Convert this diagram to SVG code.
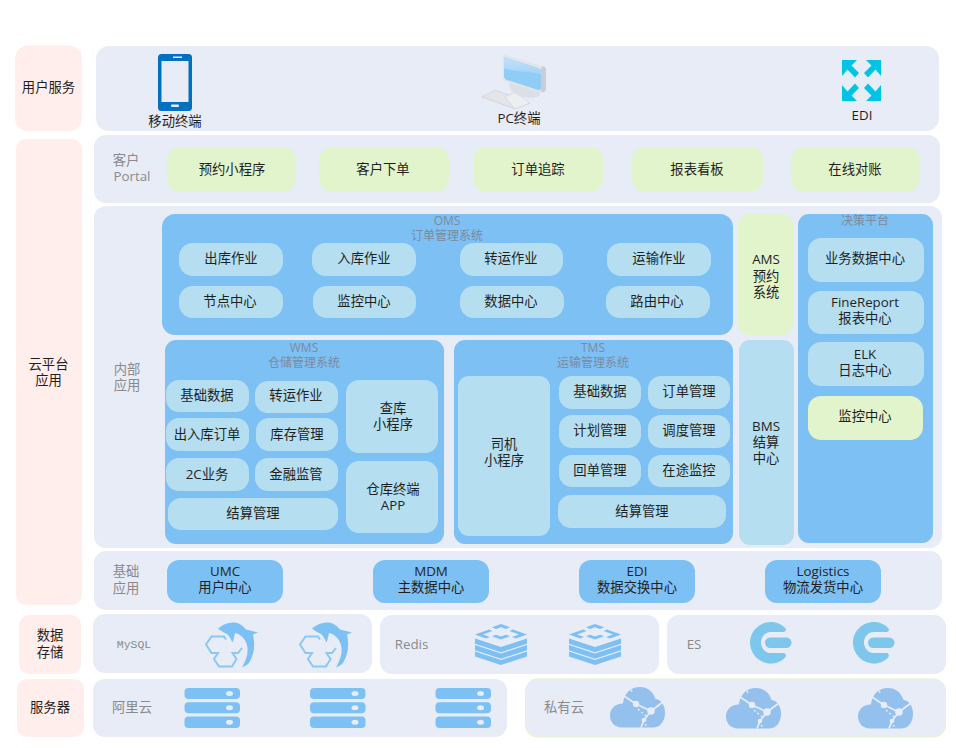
<svg xmlns="http://www.w3.org/2000/svg" width="956" height="748" viewBox="0 0 956 748">
<style>
text{font-family:"Open Sans","Noto Sans CJK SC",sans-serif;font-size:13.33px;text-anchor:middle;fill:#1f1f1f}
.g{fill:#8a8a8a}
.t{fill:#7b8aa0;font-size:12px}
.p{fill:#e8ecf7}
.k{fill:#ffeeeb}
.b{fill:#7dc0f3}
.l{fill:#b5dff0}
.n{fill:#e2f4cb}
.s{fill:#7dc0f3}
.c{fill:#93c0ec}
</style>
<defs>
<linearGradient id="scr" x1="0" y1="0" x2="0" y2="1"><stop offset="0" stop-color="#c4e2f8"/><stop offset="1" stop-color="#a2d4f7"/></linearGradient>
<g id="srv">
<rect x="0" y="0" width="55.500" height="11" rx="4" class="s"/><ellipse cx="45" cy="5.500" rx="3.500" ry="2.500" fill="#e8ecf7"/>
<rect x="0" y="14.300" width="55.500" height="11" rx="4" class="s"/><ellipse cx="45" cy="19.800" rx="3.500" ry="2.500" fill="#e8ecf7"/>
<rect x="0" y="28.600" width="55.500" height="11.400" rx="4" class="s"/><ellipse cx="45" cy="34.300" rx="3.500" ry="2.500" fill="#e8ecf7"/>
</g>
<g id="dol">
<path class="s" d="M13 6.500C18 2 24 0 29 0.500C35 1 38 4 41 7.500L53 10.500L48 12.500C50 22 50 31 44 41C42 43 39 45 37 45.500C41 38 44 31 42 23C40 16 35 12 30 11C29 15 29 17 27.500 20.500C25.500 17 24.500 13 20 11C17 9.500 15 8 13 6.500Z"/>
<path fill="none" stroke="#8cc8f0" stroke-width="2" d="M21 17.500L19 14.500H6.500L1 22.500L6.500 31H13L9 37L14 44.500H27L31.500 37L27.500 31H33L37 26"/>
</g>
<g id="red" class="s">
<path d="M0 14.500L26 23L52 14.500V19.800L26 28.300L0 19.800Z"/>
<path d="M0 21L26 29.500L52 21V26.300L26 34.800L0 26.300Z"/>
<path d="M0 27.500L26 36L52 27.500V32.500L26 41L0 32.500Z"/>
<path d="M0 10.500L14 5.500L17.500 7L8 10.500L15 13L11 14.500ZM52 10.500L38 5.500L34.500 7L44 10.500L37 13L41 14.500ZM26 0L35 3.300L31 5L26 3.300L21 5L17 3.300ZM26 15.500L35 12.300L31 10.800L26 12.500L21 10.800L17 12.300Z"/>
</g>
<g id="es">
<path fill="#7dc6ec" d="M21 0C27 0 32 2.500 35.500 6.500C36.500 8 35.500 10 33.500 10H21C15 10 11 15 11 20.500C11 26 15 31 21 31H33.500C35.500 31 36.500 33 35.500 35C32 39 27 41.500 21 41.500C9.500 41.500 0 32 0 20.500C0 9 9.500 0 21 0Z"/>
<rect x="15" y="15.500" width="26.500" height="10.500" rx="5.200" fill="#7dc6ec"/>
</g>
<g id="cld">
<path class="c" d="M12 40.500C5 40.500 0 35.500 0 28.500C0 21.500 5 16.500 13 16.500C14 6 21 0 30 0C37 0 43 4 45.500 12C51 12.500 55 18 55 26C55 34.500 50 40.500 43 40.500Z"/>
<path fill="none" stroke="#e8ecf7" stroke-width="1.800" d="M14 9L26 17L41 24L53 15M41 24L34 33L31 40.500"/>
<path fill="none" stroke="#e8ecf7" stroke-width="1.500" stroke-dasharray="2 2.500" d="M28 22L36 29M21 3L23 6M35 37L38 40"/>
<circle cx="26" cy="17" r="3.200" fill="#e8ecf7"/><circle cx="41" cy="24" r="3.800" fill="#e8ecf7"/><circle cx="34" cy="33" r="2.300" fill="#e8ecf7"/>
</g>
</defs>

<g id="connectors"/>

<g id="user-service"><rect class="k" x="15" y="45.500" width="67" height="85.500" rx="13"/><text x="48.500" y="92">用户服务</text></g>
<g id="user-panel"><rect class="p" x="96" y="46" width="843" height="85" rx="13"/></g>
<g id="mobile">
<rect x="158" y="54" width="34" height="57" rx="3.500" fill="#0070c0"/>
<rect x="161.500" y="61" width="27" height="41" fill="#e8ecf7"/>
<rect x="173" y="56.500" width="9" height="1.500" fill="#e8ecf7"/>
<rect x="171" y="104.500" width="8" height="2.500" rx="1" fill="#e8ecf7"/>
<text x="175" y="126">移动终端</text>
</g>
<g id="pc">
<path d="M482 97L495 90L530 103L515 109Z" fill="#e3e5e9" stroke="#cfd2d8" stroke-width=".8"/>
<path d="M505 97L515 92L530 103L515 109Z" fill="#eceef1" stroke="#cfd2d8" stroke-width=".6"/>
<path d="M509 84C509 94 524 100 537 97C541 95 541 92 540 90L512 80Z" fill="#dcdfe5"/>
<path d="M503 54L543 66Q546 67 546 71V88Q546 93 541 92L506 82Q503 81 503 77Z" fill="#e2e5ea"/>
<path d="M541 68L543 66Q546 67 546 71V88Q546 93 541 92Z" fill="#c9cdd5"/>
<path d="M504 57L538 68Q541 69 541 72V87Q541 91 538 90L507 80Q504 79 504 76Z" fill="#8fcdf6"/>
<path d="M504 57L538 68Q541 69 541 72V74C528 71 512 72 504 68Z" fill="url(#scr)"/>
<text x="519" y="123">PC终端</text>
</g>
<g id="edi">
<path fill="#00c4e4" d="M842 60H857L851.500 65.500L859 73L855 77.500L847.500 69.500L842 76ZM881 60H866L871.500 65.500L864 73L868 77.500L875.500 69.500L881 76ZM842 101H857L851.500 95.500L859 88L855 83.500L847.500 91.500L842 85ZM881 101H866L871.500 95.500L864 88L868 83.500L875.500 91.500L881 85Z"/>
<text x="862" y="120">EDI</text>
</g>

<g id="cloud-label"><rect class="k" x="16" y="139" width="66" height="466" rx="10"/><text x="48.500" y="369">云平台<tspan x="48.500" dy="16">应用</tspan></text></g>

<g id="portal-panel"><rect class="p" x="94" y="135" width="846" height="68" rx="12"/><text class="g" x="126" y="165">客户<tspan x="132" dy="16">Portal</tspan></text></g>
<g id="n-yuyue"><rect class="n" x="167" y="147" width="129" height="45" rx="13"/><text x="232" y="174">预约小程序</text></g>
<g id="n-xiadan"><rect class="n" x="319" y="147" width="130" height="45" rx="13"/><text x="383" y="174">客户下单</text></g>
<g id="n-zhuizong"><rect class="n" x="473" y="147" width="130" height="45" rx="13"/><text x="538" y="174">订单追踪</text></g>
<g id="n-baobiao"><rect class="n" x="632" y="147" width="131" height="45" rx="13"/><text x="697" y="174">报表看板</text></g>
<g id="n-duizhang"><rect class="n" x="791" y="147" width="129" height="45" rx="13"/><text x="855" y="174">在线对账</text></g>

<g id="inner-panel"><rect class="p" x="94" y="206" width="848" height="342" rx="12"/><text class="g" x="127" y="374">内部<tspan x="127" dy="16">应用</tspan></text></g>

<g id="oms"><rect class="b" x="162" y="214" width="571" height="121" rx="13"/><text class="t" x="447" y="225">OMS<tspan x="447" dy="15">订单管理系统</tspan></text></g>
<g id="o1"><rect class="l" x="179" y="243" width="104" height="33" rx="14"/><text x="231" y="263">出库作业</text></g>
<g id="o2"><rect class="l" x="312" y="243" width="104" height="33" rx="14"/><text x="364" y="263">入库作业</text></g>
<g id="o3"><rect class="l" x="460" y="243" width="103" height="33" rx="14"/><text x="511" y="263">转运作业</text></g>
<g id="o4"><rect class="l" x="607" y="243" width="104" height="33" rx="14"/><text x="659" y="263">运输作业</text></g>
<g id="o5"><rect class="l" x="179" y="286" width="104" height="32" rx="14"/><text x="230" y="306">节点中心</text></g>
<g id="o6"><rect class="l" x="313" y="286" width="103" height="32" rx="14"/><text x="364" y="306">监控中心</text></g>
<g id="o7"><rect class="l" x="460" y="286" width="104" height="32" rx="14"/><text x="511" y="306">数据中心</text></g>
<g id="o8"><rect class="l" x="606" y="286" width="104" height="32" rx="14"/><text x="657" y="306">路由中心</text></g>

<g id="ams"><rect class="n" x="738" y="214" width="55" height="121" rx="11"/><text x="766" y="264">AMS<tspan x="766" dy="16.500">预约</tspan><tspan x="766" dy="16.500">系统</tspan></text></g>
<g id="bms"><rect class="l" x="739" y="340" width="55" height="205" rx="11"/><text x="766" y="431">BMS<tspan x="766" dy="16">结算</tspan><tspan x="766" dy="16">中心</tspan></text></g>

<g id="decision"><rect class="b" x="798" y="214" width="135" height="329" rx="11"/><text class="t" x="865" y="225">决策平台</text></g>
<g id="d1"><rect class="l" x="808" y="238" width="116" height="44" rx="13"/><text x="865" y="263">业务数据中心</text></g>
<g id="d2"><rect class="l" x="808" y="291" width="116" height="43" rx="13"/><text x="865" y="307">FineReport<tspan x="865" dy="16">报表中心</tspan></text></g>
<g id="d3"><rect class="l" x="808" y="342" width="116" height="44" rx="13"/><text x="865" y="359">ELK<tspan x="865" dy="16">日志中心</tspan></text></g>
<g id="d4"><rect class="n" x="808" y="396" width="115" height="44" rx="13"/><text x="865" y="421">监控中心</text></g>

<g id="wms"><rect class="b" x="165" y="340" width="279" height="204" rx="11"/><text class="t" x="304" y="352">WMS<tspan x="304" dy="15">仓储管理系统</tspan></text></g>
<g id="w1"><rect class="l" x="166" y="380" width="83" height="32" rx="13"/><text x="207" y="400">基础数据</text></g>
<g id="w2"><rect class="l" x="255" y="381" width="83" height="32" rx="13"/><text x="296" y="400">转运作业</text></g>
<g id="w3"><rect class="l" x="166" y="418" width="83" height="33" rx="13"/><text x="207" y="439">出入库订单</text></g>
<g id="w4"><rect class="l" x="256" y="418" width="82" height="33" rx="13"/><text x="297" y="439">库存管理</text></g>
<g id="w5"><rect class="l" x="166" y="458" width="83" height="33" rx="13"/><text x="207" y="479">2C业务</text></g>
<g id="w6"><rect class="l" x="255" y="458" width="83" height="33" rx="13"/><text x="296" y="479">金融监管</text></g>
<g id="w7"><rect class="l" x="168" y="498" width="170" height="32" rx="13"/><text x="253" y="518">结算管理</text></g>
<g id="w8"><rect class="l" x="346" y="380" width="92" height="73" rx="13"/><text x="393" y="413">查库<tspan x="393" dy="16">小程序</tspan></text></g>
<g id="w9"><rect class="l" x="346" y="461" width="92" height="72" rx="13"/><text x="393" y="494">仓库终端<tspan x="393" dy="15.500">APP</tspan></text></g>

<g id="tms"><rect class="b" x="454" y="340" width="279" height="204" rx="11"/><text class="t" x="593" y="352">TMS<tspan x="593" dy="15">运输管理系统</tspan></text></g>
<g id="t0"><rect class="l" x="458" y="376" width="92" height="160" rx="11"/><text x="504" y="449">司机<tspan x="504" dy="16">小程序</tspan></text></g>
<g id="t1"><rect class="l" x="559" y="376" width="82" height="33" rx="13"/><text x="600" y="396">基础数据</text></g>
<g id="t2"><rect class="l" x="648" y="376" width="82" height="33" rx="13"/><text x="689" y="396">订单管理</text></g>
<g id="t3"><rect class="l" x="559" y="415" width="82" height="33" rx="13"/><text x="600" y="435">计划管理</text></g>
<g id="t4"><rect class="l" x="648" y="415" width="82" height="33" rx="13"/><text x="689" y="435">调度管理</text></g>
<g id="t5"><rect class="l" x="559" y="455" width="82" height="32" rx="13"/><text x="600" y="475">回单管理</text></g>
<g id="t6"><rect class="l" x="648" y="455" width="82" height="32" rx="13"/><text x="689" y="475">在途监控</text></g>
<g id="t7"><rect class="l" x="558" y="495" width="168" height="33" rx="13"/><text x="642" y="516">结算管理</text></g>

<g id="base-panel"><rect class="p" x="94" y="551" width="848" height="59" rx="12"/><text class="g" x="126" y="576">基础<tspan x="126" dy="17">应用</tspan></text></g>
<g id="umc"><rect class="b" x="167" y="560" width="116" height="43" rx="12"/><text x="225" y="576">UMC<tspan x="225" dy="16">用户中心</tspan></text></g>
<g id="mdm"><rect class="b" x="373" y="560" width="116" height="43" rx="12"/><text x="431" y="576">MDM<tspan x="431" dy="16">主数据中心</tspan></text></g>
<g id="edi2"><rect class="b" x="579" y="560" width="116" height="43" rx="12"/><text x="637" y="576">EDI<tspan x="637" dy="16">数据交换中心</tspan></text></g>
<g id="logistics"><rect class="b" x="765" y="560" width="116" height="43" rx="12"/><text x="823" y="576">Logistics<tspan x="823" dy="16">物流发货中心</tspan></text></g>

<g id="data-label"><rect class="k" x="19" y="615" width="62" height="59" rx="10"/><text x="50" y="640">数据<tspan x="50" dy="17">存储</tspan></text></g>
<g id="server-label"><rect class="k" x="17" y="679" width="67" height="58" rx="10"/><text x="50" y="712">服务器</text></g>

<g id="mysql"><rect class="p" x="93" y="614" width="279" height="59" rx="12"/><text class="g" x="134" y="648" style="font-family:'Liberation Mono',monospace;font-size:11.500px">MySQL</text>
<use href="#dol" x="205" y="622"/><use href="#dol" x="299" y="622"/></g>
<g id="redis"><rect class="p" x="380" y="615" width="279" height="59" rx="12"/><text class="g" x="411.500" y="649">Redis</text>
<use href="#red" x="475" y="624"/><use href="#red" x="569" y="624"/></g>
<g id="es-panel"><rect class="p" x="667" y="615" width="279" height="59" rx="12"/><text class="g" x="694" y="649">ES</text>
<use href="#es" x="750" y="622"/><use href="#es" x="853" y="622"/></g>

<g id="aliyun"><rect class="p" x="93" y="679" width="414" height="58" rx="12"/><text class="g" x="132" y="712">阿里云</text>
<use href="#srv" x="184.500" y="688"/><use href="#srv" x="310" y="688"/><use href="#srv" x="435.500" y="688"/></g>
<g id="private"><rect class="p" x="525.500" y="679" width="420" height="58" rx="12" stroke="#e2f4cb" stroke-width="1"/><text class="g" x="564" y="712">私有云</text>
<use href="#cld" x="610" y="687"/><use href="#cld" x="726" y="688"/><use href="#cld" x="858" y="688"/></g>
</svg>
